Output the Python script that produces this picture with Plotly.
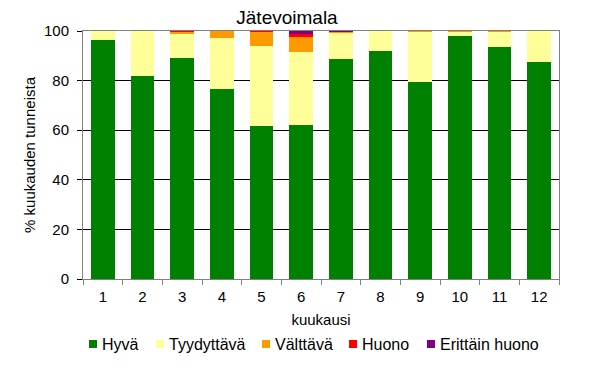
import plotly.graph_objects as go

months = ["1", "2", "3", "4", "5", "6", "7", "8", "9", "10", "11", "12"]
hyva = [96.5, 81.9, 89.2, 76.6, 61.6, 62.3, 88.8, 92.0, 79.5, 98.0, 93.6, 87.5]
tyydyttava = [3.5, 18.1, 9.7, 20.7, 32.5, 29.2, 10.5, 8.0, 20.2, 1.7, 6.1, 12.5]
valttava = [0.0, 0.0, 0.8, 2.7, 5.5, 6.2, 0.4, 0.0, 0.3, 0.3, 0.3, 0.0]
huono = [0.0, 0.0, 0.3, 0.0, 0.4, 1.2, 0.0, 0.0, 0.0, 0.0, 0.0, 0.0]
erittain_huono = [0.0, 0.0, 0.0, 0.0, 0.0, 1.1, 0.3, 0.0, 0.0, 0.0, 0.0, 0.0]

series_names = ["Hyvä", "Tyydyttävä", "Välttävä", "Huono", "Erittäin huono"]
series_values = [hyva, tyydyttava, valttava, huono, erittain_huono]
series_colors = ["#008000", "#FFFF99", "#FF9900", "#FF0000", "#800080"]

OFF = 8  # page body margin offset
W, H = 604 - OFF, 370 - OFF
L, T = 83 - OFF, 31 - OFF
R, B = 45, 91
pw, ph = W - L - R, H - T - B

font = "Liberation Sans, Arial, sans-serif"

fig = go.Figure()
for name, vals, col in zip(series_names, series_values, series_colors):
    fig.add_trace(go.Bar(x=months, y=vals, name=name,
                         marker=dict(color=col, line=dict(width=0))))

# manual legend (target pixel layout converted to paper coords)
leg_sq_left = [89, 156, 262, 349, 427]
leg_y = 344
shapes = []
annotations = []
for name, col, sx in zip(series_names, series_colors, leg_sq_left):
    sx -= OFF
    ly = leg_y - OFF
    x0 = (sx - L) / pw
    x1 = (sx + 8 - L) / pw
    y0 = (H - B - (ly + 4)) / ph
    y1 = (H - B - (ly - 4)) / ph
    shapes.append(dict(type="rect", xref="paper", yref="paper", x0=x0, x1=x1, y0=y0, y1=y1,
                       fillcolor=col, line=dict(width=0)))
    annotations.append(dict(text=name, xref="paper", yref="paper",
                            x=(sx + 11 - L) / pw, y=(H - B - ly) / ph,
                            xanchor="left", yanchor="middle", showarrow=False,
                            font=dict(size=16, family=font, color="black")))

fig.update_layout(
    barmode="stack",
    bargap=0.4,
    width=W, height=H,
    margin=dict(l=L, r=R, t=T, b=B, autoexpand=False),
    paper_bgcolor="white", plot_bgcolor="white",
    font=dict(family=font, size=15, color="black"),
    title=dict(text="Jätevoimala", x=(287 - OFF) / W, xanchor="center",
               y=1 - (17 - OFF) / H, yanchor="middle",
               font=dict(size=19, family=font, color="black")),
    showlegend=False,
    shapes=shapes,
    annotations=annotations,
)
fig.update_xaxes(
    type="category", tickson="boundaries", ticks="outside", ticklen=5, tickcolor="#808080",
    showline=True, linecolor="#808080", linewidth=1, mirror=True,
    showgrid=False, automargin=False, ticklabelstandoff=4,
    title=dict(text="kuukausi", font=dict(size=15), standoff=10),
    tickfont=dict(size=15),
)
fig.update_yaxes(
    range=[0, 100], tickvals=[0, 20, 40, 60, 80, 100], ticks="outside", ticklen=5,
    tickcolor="black",
    showline=True, linecolor="#808080", linewidth=1, mirror=True,
    showgrid=True, gridcolor="black", gridwidth=1, automargin=False, ticklabelstandoff=5,
    title=dict(text="% kuukauden tunneista", font=dict(size=15), standoff=4),
    tickfont=dict(size=15),
)
fig.write_html("out.html")
